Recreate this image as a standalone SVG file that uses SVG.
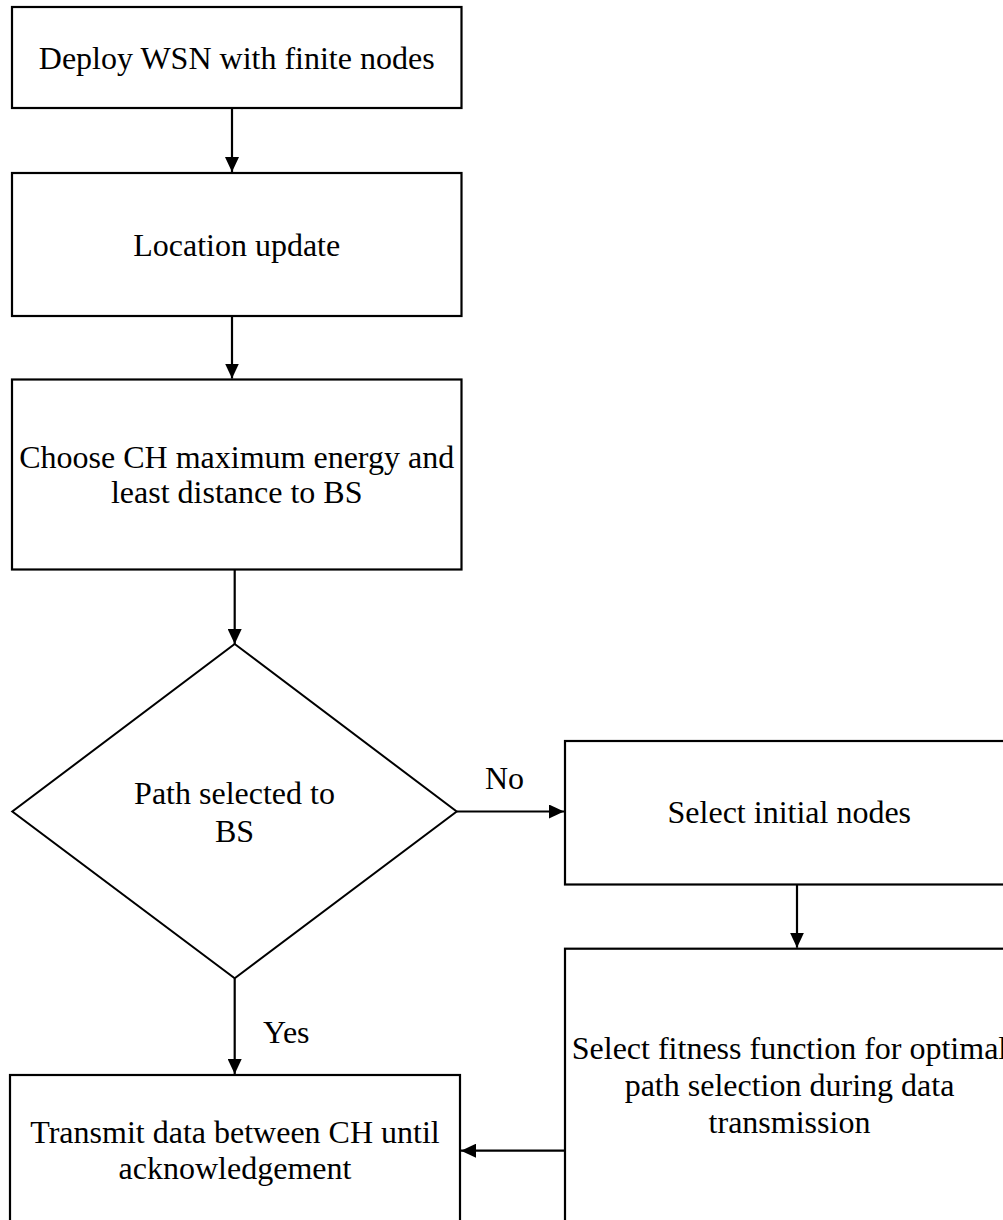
<svg xmlns="http://www.w3.org/2000/svg" width="1003" height="1220" viewBox="0 0 1003 1220">
<style>
.box{fill:#fff;stroke:#000;stroke-width:2.2}
.dia{fill:#fff;stroke:#000;stroke-width:2}
.lbl{font-family:"Liberation Serif","Times New Roman",serif;font-size:32px;fill:#000;text-anchor:middle}
.edge{font-family:"Liberation Serif","Times New Roman",serif;font-size:32px;fill:#000}
.conn{stroke:#000;stroke-width:2.2;fill:none;marker-end:url(#arr)}
</style>
<defs>
<marker id="arr" markerUnits="userSpaceOnUse" markerWidth="16" markerHeight="14" refX="15" refY="7" orient="auto">
<path d="M0,0 L15,7 L0,14 Z" fill="#000"/>
</marker>
</defs>
<rect width="1003" height="1220" fill="#fff"/>
<g id="connectors">
<line class="conn" x1="232" y1="108" x2="232" y2="172"/>
<line class="conn" x1="232" y1="316" x2="232" y2="378.5"/>
<line class="conn" x1="234.7" y1="569.5" x2="234.7" y2="644"/>
<line class="conn" x1="456.7" y1="811.5" x2="564" y2="811.5"/>
<line class="conn" x1="234.7" y1="978.3" x2="234.7" y2="1074"/>
<line class="conn" x1="797" y1="884.5" x2="797" y2="947.7"/>
<line class="conn" x1="565" y1="1150.7" x2="461" y2="1150.7"/>
<text class="edge" x="485" y="789">No</text>
<text class="edge" x="263" y="1043">Yes</text>
</g>
<g id="n1">
<rect class="box" x="12" y="7" width="449.5" height="101"/>
<text class="lbl" x="236.7" y="69">Deploy WSN with finite nodes</text>
</g>
<g id="n2">
<rect class="box" x="12" y="173" width="449.5" height="143"/>
<text class="lbl" x="236.7" y="255.5">Location update</text>
</g>
<g id="n3">
<rect class="box" x="12" y="379.5" width="449.5" height="190"/>
<text class="lbl" x="236.7" y="467.7">Choose CH maximum energy and</text>
<text class="lbl" x="236.7" y="503.3">least distance to BS</text>
</g>
<g id="n4">
<polygon class="dia" points="234.7,644 456.7,811.5 234.7,978.3 12.3,811.5"/>
<text class="lbl" x="234.5" y="804.3">Path selected to</text>
<text class="lbl" x="234.5" y="841.7">BS</text>
</g>
<g id="n5">
<rect class="box" x="565" y="741" width="449" height="143.5"/>
<text class="lbl" x="789.3" y="823.3">Select initial nodes</text>
</g>
<g id="n6">
<rect class="box" x="565" y="948.7" width="449" height="276"/>
<text class="lbl" x="789.5" y="1059.3">Select fitness function for optimal</text>
<text class="lbl" x="789.5" y="1096">path selection during data</text>
<text class="lbl" x="789.5" y="1132.7">transmission</text>
</g>
<g id="n7">
<rect class="box" x="10" y="1075" width="450" height="152"/>
<text class="lbl" x="235" y="1143.3">Transmit data between CH until</text>
<text class="lbl" x="235" y="1179.3">acknowledgement</text>
</g>
</svg>
